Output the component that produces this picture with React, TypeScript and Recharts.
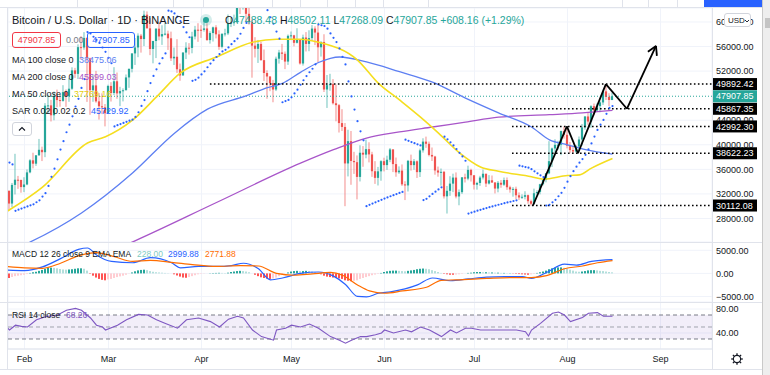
import React from 'react';
import {
  ComposedChart,
  Bar,
  Line,
  XAxis,
  YAxis,
  CartesianGrid,
  ReferenceLine,
  ReferenceArea,
  Cell
} from 'recharts';

const FONT = '"Liberation Sans", Arial, sans-serif';
const TEXT = '#131722';
const GRID = '#f0f3fa';
const BORDER = '#e0e3eb';
const UP = '#26a69a';
const DOWN = '#ef5350';

// day index 0 = 26 Jan 2021, one candle per day
const monthTicks = [6, 34, 65, 95, 126, 156, 187, 218];
const monthLabels = ['Feb', 'Mar', 'Apr', 'May', 'Jun', 'Jul', 'Aug', 'Sep'];
const X_DOMAIN: [number, number] = [0.5, 235.17];
const PRICE_DOMAIN: [number, number] = [24170, 62280];

const firstOpen = 32259;

const closes = [
  32510, 30432, 33467, 34316, 34269, 33114,
  33537, 35510, 37472, 36926, 38290, 39186, 38795, 46374, 46420, 44807, 47969, 47287, 47153, 48577, 47911, 49133, 52119, 51552, 55906, 55841, 57408, 54087, 48891, 49676, 47073, 46276, 46106, 45135,
  49587, 48440, 50349, 48374, 48751, 48882, 50971, 52375, 54884, 55851, 57773, 57221, 61188, 58968, 55605, 56900, 58912, 57648, 58030, 58102, 57351, 54083, 54340, 52303, 51293, 55025, 55817, 55777, 57635, 58746, 58740,
  58720, 58950, 57051, 58202, 59129, 57991, 55953, 58077, 58142, 59769, 59860, 59964, 63575, 62959, 63160, 61334, 60006, 56150, 55634, 56425, 53787, 51690, 51125, 50047, 49004, 54021, 55033, 54824, 53555, 57750,
  57828, 56610, 57213, 53241, 57473, 56428, 57380, 58928, 58281, 55883, 56750, 49007, 49716, 49880, 46761, 46456, 43538, 42909, 36964, 40596, 37371, 37170, 34770, 38706, 38402, 39294, 38436, 35698, 34617, 35679, 37333,
  36694, 37569, 39248, 36857, 35521, 35797, 33553, 33380, 37389, 36693, 37313, 35551, 39097, 40519, 40162, 38349, 38093, 35820, 35483, 35600, 31608, 32509, 33678, 34663, 31584, 32283, 34700, 34494, 35911, 35045,
  33504, 33787, 34669, 35286, 33690, 34220, 33862, 32875, 33815, 33502, 34259, 33087, 32730, 32822, 31780, 31421, 31533, 31796, 30817, 30400, 32110, 32314, 33581, 34292, 35350, 37337, 39406, 39995, 40008, 42236, 41626,
  39846, 39147, 38900, 39723, 40862, 42836, 44614, 43792, 46285, 45593, 46300, 46900, 48700, 47800, 47300, 47907.85
];

const highs = [
  32921, 32557, 33783, 38531, 34934, 34340,
  34717, 35984, 37662, 38708, 38310, 40955, 39700, 46794, 48142, 47310, 48678, 48985, 48150, 49707, 49010, 50869, 52618, 52530, 56368, 57700, 58352, 57508, 54183, 51374, 52041, 48424, 48393, 46638,
  49790, 50200, 52640, 51773, 49448, 49200, 51450, 52402, 54895, 57387, 58150, 58058, 61844, 61724, 60633, 56938, 58981, 60040, 59468, 59880, 58589, 58430, 55830, 57200, 53230, 55073, 56700, 56559, 58400, 59368, 59800,
  59461, 60200, 59791, 58493, 59251, 59474, 58650, 58153, 58894, 61218, 60658, 61199, 63777, 64854, 63800, 63520, 62506, 60499, 57526, 57076, 56757, 55520, 52130, 51166, 50567, 54356, 55460, 56428, 55200, 57963,
  58448, 57911, 58981, 57200, 57939, 58360, 58650, 59500, 59300, 59595, 56862, 58000, 51367, 51560, 50700, 49800, 46643, 45800, 43546, 42451, 42250, 38856, 38270, 39920, 39791, 40841, 40411, 38856, 37338, 36400, 37499,
  37894, 38225, 39476, 39289, 37925, 36480, 36800, 34068, 37534, 38400, 37680, 37463, 39380, 41064, 41330, 40527, 39559, 38202, 36457, 36137, 35750, 33298, 34881, 35298, 35500, 32730, 34749, 35297, 36600, 36100,
  35036, 33977, 34945, 35967, 35293, 35059, 35000, 33929, 34100, 34262, 34666, 34678, 33340, 33114, 33185, 32249, 31935, 32435, 31899, 31063, 32858, 32591, 33650, 34500, 35398, 40593, 39542, 40900, 40640, 42316, 42992,
  42599, 40459, 39780, 39969, 41350, 43392, 44700, 45310, 46454, 46718, 46743, 47100, 49000, 49892, 48400, 48502.11
];

const lows = [
  30837, 29241, 29842, 31915, 32825, 32200,
  32296, 33418, 35362, 36161, 36570, 38215, 37351, 37988, 45020, 43800, 43994, 46125, 46202, 47014, 46174, 47003, 48947, 50901, 50710, 53863, 55477, 46988, 44892, 47003, 46856, 44106, 45000, 43000,
  45042, 47047, 48100, 47500, 46300, 47070, 48882, 49274, 51789, 53005, 54270, 55013, 56078, 58966, 54600, 53271, 54123, 57023, 56270, 57820, 55450, 53650, 53000, 51700, 50427, 51283, 53966, 54691, 54901, 57168, 56769,
  57413, 58428, 56956, 56478, 56817, 57333, 55473, 55700, 57654, 57872, 59177, 59369, 59869, 61301, 62020, 60000, 59580, 50931, 54221, 53329, 53695, 50400, 47500, 48733, 46930, 48753, 53222, 53813, 52330, 53013,
  57052, 56035, 56500, 53057, 52900, 55200, 55241, 56900, 56235, 53400, 54370, 48600, 46000, 48805, 46555, 43825, 42001, 42250, 30000, 34850, 33488, 35258, 31111, 34031, 36419, 37800, 37134, 34779, 33632, 33379, 34153,
  35666, 35920, 37170, 35555, 34800, 35258, 33300, 31000, 32396, 35800, 35936, 34600, 34757, 38730, 39506, 38116, 37365, 35129, 34803, 33336, 31251, 28805, 31683, 32286, 31275, 30151, 32000, 33862, 34225, 34017,
  32711, 32699, 33316, 34357, 33125, 33532, 33780, 32077, 32261, 33004, 33306, 32658, 32202, 31550, 31133, 31020, 31176, 31108, 30407, 30112, 30300, 31708, 31925, 33401, 33881, 35205, 36383, 38772, 39200, 38313, 41000,
  39422, 38690, 38622, 38700, 39000, 39853, 42446, 43261, 42779, 44800, 45341, 45300, 46500, 47300, 46300, 47268.09
];

// parabolic SAR dots, one per day
const sar = [
  37400, 37100, 36800, 29241, 29427, 29609,
  29787, 29962, 30137, 30305, 30641, 30964, 31563, 32127, 33300, 34784, 36120, 37627, 39217, 40585, 42045, 43271, 44639, 46235, 47494, 49269, 50710, 58352, 58125, 57596, 57088, 56600, 55850, 55145,
  54173, 53279, 43000, 43193, 43382, 43567, 43748, 43926, 44100, 44532, 45303, 46331, 47277, 48734, 50045, 51225, 52287, 53243, 54103, 54877, 61844, 61716, 61393, 60889, 60154, 59181, 58306, 57518, 50427, 50586, 50937,
  51469, 51969, 52627, 53233, 53790, 54303, 54775, 55209, 55473, 55851, 56388, 56871, 57306, 58083, 59031, 59846, 64854, 64749, 64196, 63665, 63156, 62663, 61927, 60773, 59711, 58433, 57283, 46930, 47120, 47306,
  47732, 48375, 48979, 49779, 50515, 51192, 51815, 52388, 53099, 59595, 59471, 59350, 58920, 58145, 57416, 56731, 55699, 54329, 53096, 50325, 47886, 45740, 43851, 42189, 40726, 30000, 30217, 30429, 30637, 30841, 31041,
  31237, 31429, 31617, 31801, 31982, 32159, 32333, 40841, 40644, 40451, 40262, 40077, 39895, 31000, 31201, 31606, 31995, 32368, 32727, 33071, 41330, 40900, 40400, 39900, 39300, 38700, 38100, 37400, 28805, 28961,
  29114, 29264, 29411, 29555, 29696, 29834, 29970, 30103, 30233, 30361, 30486, 30609, 30729, 30847, 30962, 36600, 36488, 36379, 36272, 36037, 35682, 35348, 35034, 34739, 30112, 30218, 30633, 31031, 31623, 32180, 32991,
  33991, 34891, 35701, 36430, 37086, 37677, 38363, 39250, 40220, 41342, 42417, 43282, 44046, 45037, 46008, 46300
];

// MACD histogram, one per day
const macdHist = [
  -900, -1000, -800, -600, -500, -400, -300, -150,
  100, 250, 350, 550, 750, 1000, 1200, 1250, 1200, 1100, 950, 850, 800, 850, 900, 1000, 1100, 1100, 1000, 600,
  -100, -500, -900, -1200, -1400, -1500, -1300, -1200, -1000, -800, -650, -500, -300, -100,
  200, 450, 650, 750, 800, 700, 500, 350,
  250, 200, 150, 100, 50, 0,
  -200, -450, -700, -900, -950, -800, -600, -400, -200,
  -100, -50, 0, 50, 80, 100, 120, 100, 80,
  150, 300, 400, 500, 550, 500, 400, 250,
  0, -300, -600, -850, -1000, -1150, -1200, -1100, -900, -600, -300,
  0, 200, 400, 500, 550, 500, 500, 550, 500, 400, 250,
  0, -200, -500, -700, -800, -900, -1000, -1100, -1200, -1500, -1600, -1700, -1600, -1500, -1200, -1000, -800, -600, -400, -250, -100,
  100, 300, 450, 550, 600, 600, 550, 500, 450, 550, 650, 750, 900, 1000, 1050, 1000, 900, 700, 500, 300, 100,
  -100, -200, -300, -300, -250, -200, -100, 0, 100,
  150, 250, 300, 300, 250, 250, 200, 200, 150, 150, 100, 100, 50, 50,
  -50, -100, -150, -200, -250, -300, -200, -100,
  100, 250, 400, 600, 900, 1100, 1250, 1300, 1300, 1200, 1000, 800, 600, 400,
  350, 400, 500, 650, 700, 700, 650, 550, 500, 400, 300, 228
];

// [day index, value]
const ma50Pts = [
  [0, 29100], [12, 33100], [27, 40300], [33, 41300], [42, 44000], [50, 47800], [58, 51700], [70, 54300],
  [82, 56700], [90, 57200], [98, 57200], [104, 56700], [117, 53800], [124, 50000], [131, 47300], [138, 44500],
  [144, 41900], [151, 38700], [158, 36400], [164, 35700], [175, 34800], [179, 34400], [187, 35000], [191, 35100],
  [195, 36200], [202, 37769]
];
const ma100Pts = [
  [0, 22500], [8, 24200], [25, 28900], [42, 35400], [56, 41900], [67, 45800], [80, 48000], [87, 49300],
  [92, 50000], [98, 51800], [104, 53400], [111, 54300], [120, 53500], [131, 51900], [142, 50200], [153, 47600],
  [164, 45200], [175, 42900], [181, 40800], [187, 40000], [193, 39200], [202, 38475]
];
const ma200Pts = [
  [0, 15000], [20, 19600], [43, 24400], [70, 30600], [98, 37000], [109, 39200], [120, 41100], [131, 42100],
  [142, 42900], [153, 43700], [164, 44500], [181, 44900], [192, 45200], [202, 45600]
];
const macdPts = [
  [0, 700], [6, 600], [12, 1400], [18, 3200], [24, 5200], [27, 5500], [30, 4000], [35, 2600], [42, 2300],
  [48, 3400], [55, 2300], [58, 1200], [64, 1500], [70, 1500], [75, 1700], [79, 2200], [84, 1000], [88, -1400],
  [92, -1000], [98, 0], [104, 300], [109, -600], [113, -2400], [117, -5000], [120, -5100], [124, -4300],
  [128, -4000], [137, -2500], [142, -1000], [148, -1600], [154, -1200], [160, -800], [166, -700], [172, -700],
  [175, -1100], [180, 200], [186, 2000], [190, 1800], [195, 2600], [202, 3000]
];
const signalPts = [
  [0, 1500], [6, 1200], [12, 1100], [18, 2200], [24, 3800], [30, 4500], [36, 3600], [42, 2600], [48, 2800],
  [55, 2400], [62, 1900], [70, 1500], [78, 1700], [84, 1600], [90, 0], [96, -400], [102, -100], [108, 200],
  [112, -400], [117, -2500], [121, -3800], [126, -4300], [132, -3800], [140, -3000], [145, -1500], [150, -1400],
  [160, -1100], [168, -900], [175, -900], [180, -500], [186, 1000], [192, 1600], [197, 2300], [202, 2772]
];
const rsiPts = [
  [0, 50], [1, 45], [3, 53], [5, 51], [7, 50], [10, 62], [13, 67], [17, 70], [20, 78], [23, 81], [25, 78],
  [28, 65], [30, 53], [32, 50], [33, 45], [37, 53], [40, 62], [44, 71], [47, 70], [50, 62], [53, 56], [57, 48],
  [60, 62], [64, 65], [68, 59], [71, 50], [74, 63], [77, 68], [79, 65], [82, 45], [85, 34], [89, 28], [90, 45],
  [93, 48], [95, 53], [98, 50], [101, 55], [104, 48], [108, 34], [111, 28], [113, 23], [115, 28], [118, 34],
  [120, 34], [123, 37], [125, 40], [126, 45], [129, 40], [133, 45], [135, 42], [138, 50], [141, 45], [145, 34],
  [148, 45], [150, 40], [153, 48], [155, 48], [158, 45], [164, 45], [170, 45], [173, 42], [174, 35], [175, 45],
  [178, 56], [182, 73], [184, 75], [186, 70], [188, 59], [192, 66], [194, 73], [197, 74], [199, 68], [202, 68]
];

// 48000 sits under the last-price tag in the reference
const priceTicks = [28000, 32000, 36000, 40000, 44000, 52000, 56000, 60000];
const macdTicks = [-5000, 0, 5000];
const rsiTicks = [40, 80];
const lastPrice = 47907.85;
const levelPrices = [49892.42, 45867.35, 42992.3, 38622.23, 30112.08];
const levelStarts = [67.8, 168.5, 168.5, 168.5, 168.5];
const zigzag = [
  [175.5, 30112.08], [186.8, 42992.3], [190.5, 38622.23], [199.8, 49892.42], [206.8, 45867.35], [216.5, 56100]
];
const arrowWings = [[213.8, 55150], [216.8, 54470]];

const toMap = (pts: number[][]) => new Map(pts.map(([i, v]) => [i, v]));
const m50 = toMap(ma50Pts);
const m100 = toMap(ma100Pts);
const m200 = toMap(ma200Pts);
const mMacd = toMap(macdPts);
const mSig = toMap(signalPts);
const mRsi = toMap(rsiPts);

const rows = closes.map((c, i) => {
  const o = i === 0 ? firstOpen : closes[i - 1];
  return {
    i,
    o,
    h: highs[i],
    l: lows[i],
    c,
    range: [lows[i], highs[i]],
    sar: sar[i],
    hist: macdHist[i],
    ma50: m50.get(i),
    ma100: m100.get(i),
    ma200: m200.get(i),
    macd: mMacd.get(i),
    signal: mSig.get(i),
    rsi: mRsi.get(i)
  };
});

const histColor = (k: number) => {
  const v = macdHist[k];
  const prev = k > 0 ? macdHist[k - 1] : v;
  if (v >= 0) return v >= prev ? '#26a69a' : '#b2dfdb';
  return v <= prev ? '#ff5252' : '#ffcdd2';
};

const Candle = (props: any) => {
  const { x, y, width, height, payload } = props;
  if (!payload || height == null || isNaN(y)) return null;
  const { o, h, l, c } = payload;
  const color = c >= o ? UP : DOWN;
  const span = h - l || 1;
  const topP = Math.min(h, Math.max(o, c));
  const botP = Math.max(l, Math.min(o, c));
  const top = y + ((h - topP) / span) * height;
  const bodyH = Math.max(1, ((topP - botP) / span) * height);
  const cx = x + width / 2;
  return (
    <g>
      <line x1={cx} x2={cx} y1={y} y2={y + height} stroke={color} strokeWidth={1} opacity={0.65} />
      <rect x={cx - 1.1} y={top} width={2.2} height={bodyH} fill={color} />
    </g>
  );
};

const fmt = (v: number) => (v < 0 ? '\u2212' + Math.abs(v).toFixed(2) : v.toFixed(2));

const renderValueTick = (p: any) => (
  <text x={p.x} y={p.y} dy={3.2} fontSize={9} fill={TEXT} textAnchor="start" fontFamily={FONT}>
    {fmt(p.payload.value)}
  </text>
);

const renderMonthTick = (p: any) => (
  <text x={p.x} y={p.y} dy={13} fontSize={9} fill={TEXT} textAnchor="middle" fontFamily={FONT}>
    {monthLabels[monthTicks.indexOf(p.payload.value)]}
  </text>
);

const tagLabel = (text: string, bg: string) => (props: any) => {
  const vb = props.viewBox || {};
  const x = (vb.x || 0) + (vb.width || 0);
  const y = vb.y || 0;
  return (
    <g>
      <rect x={x} y={y - 6} width={45} height={12} fill={bg} />
      <text x={x + 4} y={y + 3.2} fontSize={9} fill="#ffffff" fontFamily={FONT}>
        {text}
      </text>
    </g>
  );
};

const Txt = ({ x, y, size = 9, color = TEXT, children }: any) => (
  <div
    style={{
      position: 'absolute',
      left: x,
      top: y,
      transform: 'translateY(-50%)',
      fontSize: size,
      color,
      whiteSpace: 'nowrap',
      lineHeight: 1,
      fontFamily: FONT
    }}
  >
    {children}
  </div>
);

const MainPane = () => (
  <ComposedChart width={770} height={242} data={rows} margin={{ top: 8, right: 0, bottom: 0, left: 8 }}>
    <CartesianGrid stroke={GRID} />
    <XAxis type="number" dataKey="i" domain={X_DOMAIN} ticks={monthTicks} hide allowDataOverflow />
    <YAxis
      orientation="right"
      domain={PRICE_DOMAIN}
      ticks={priceTicks}
      interval={0}
      width={58}
      axisLine={false}
      tickLine={false}
      tickSize={0}
      tickMargin={4}
      tick={renderValueTick}
      allowDataOverflow
    />
    <ReferenceLine y={lastPrice} stroke={UP} strokeDasharray="1 2" />
    <Line dataKey="ma200" type="monotone" stroke="#a855c9" strokeWidth={1.3} dot={false} connectNulls isAnimationActive={false} />
    <Line dataKey="ma100" type="monotone" stroke="#5d7ff2" strokeWidth={1.3} dot={false} connectNulls isAnimationActive={false} />
    <Line dataKey="ma50" type="monotone" stroke="#f5de1f" strokeWidth={1.6} dot={false} connectNulls isAnimationActive={false} />
    <Bar dataKey="range" barSize={2} shape={Candle} isAnimationActive={false} />
    <Line
      dataKey="sar"
      stroke="none"
      strokeWidth={0}
      activeDot={false}
      isAnimationActive={false}
      dot={(p: any) => <circle key={'s' + p.index} cx={p.cx} cy={p.cy} r={1.1} fill="#2962ff" />}
    />
    {levelPrices.map((p, k) => (
      <ReferenceLine
        key={'lv' + k}
        segment={[{ x: levelStarts[k], y: p }, { x: X_DOMAIN[1], y: p }]}
        stroke="#000000"
        strokeWidth={1.6}
        strokeDasharray="1.6 2.4"
      />
    ))}
    {zigzag.slice(1).map((pt, k) => (
      <ReferenceLine
        key={'zz' + k}
        segment={[{ x: zigzag[k][0], y: zigzag[k][1] }, { x: pt[0], y: pt[1] }]}
        stroke="#000000"
        strokeWidth={1.8}
      />
    ))}
    {arrowWings.map((w, k) => (
      <ReferenceLine
        key={'aw' + k}
        segment={[{ x: zigzag[5][0], y: zigzag[5][1] }, { x: w[0], y: w[1] }]}
        stroke="#000000"
        strokeWidth={1.8}
      />
    ))}
  </ComposedChart>
);

// price tags on the axis, drawn in a transparent chart on top so they cover the tick labels
const TagPane = () => (
  <ComposedChart width={770} height={242} data={rows} margin={{ top: 8, right: 0, bottom: 0, left: 8 }}>
    <XAxis type="number" dataKey="i" domain={X_DOMAIN} hide allowDataOverflow />
    <YAxis orientation="right" domain={PRICE_DOMAIN} width={58} tick={false} axisLine={false} tickLine={false} allowDataOverflow />
    {levelPrices.map((p, k) => (
      <ReferenceLine key={'tg' + k} y={p} stroke="none" label={tagLabel(p.toFixed(2), '#000000')} />
    ))}
    <ReferenceLine y={lastPrice} stroke="none" label={tagLabel(lastPrice.toFixed(2), UP)} />
  </ComposedChart>
);

const MacdPane = () => (
  <ComposedChart width={770} height={60} data={rows} margin={{ top: 0, right: 0, bottom: 0, left: 8 }}>
    <CartesianGrid stroke={GRID} />
    <XAxis type="number" dataKey="i" domain={X_DOMAIN} ticks={monthTicks} hide allowDataOverflow />
    <YAxis
      orientation="right"
      domain={[-6200, 6800]}
      ticks={macdTicks}
      interval={0}
      width={58}
      axisLine={false}
      tickLine={false}
      tickSize={0}
      tickMargin={4}
      tick={renderValueTick}
      allowDataOverflow
    />
    <Bar dataKey="hist" barSize={2} isAnimationActive={false}>
      {rows.map((r, k) => (
        <Cell key={'h' + k} fill={histColor(k)} />
      ))}
    </Bar>
    <Line dataKey="macd" type="monotone" stroke="#2962ff" strokeWidth={1.2} dot={false} connectNulls isAnimationActive={false} />
    <Line dataKey="signal" type="monotone" stroke="#ff6d00" strokeWidth={1.2} dot={false} connectNulls isAnimationActive={false} />
  </ComposedChart>
);

const RsiPane = () => (
  <ComposedChart width={770} height={67} data={rows} margin={{ top: 0, right: 0, bottom: 0, left: 8 }}>
    <CartesianGrid stroke={GRID} />
    <XAxis
      type="number"
      dataKey="i"
      domain={X_DOMAIN}
      ticks={monthTicks}
      interval={0}
      height={20}
      stroke={BORDER}
      tickLine={false}
      tickSize={0}
      tickMargin={0}
      tick={renderMonthTick}
      allowDataOverflow
    />
    <YAxis
      orientation="right"
      domain={[13.3, 91.7]}
      ticks={rsiTicks}
      interval={0}
      width={58}
      axisLine={false}
      tickLine={false}
      tickSize={0}
      tickMargin={4}
      tick={renderValueTick}
      allowDataOverflow
    />
    <ReferenceArea y1={30} y2={70} fill="#7e57c2" fillOpacity={0.1} stroke="none" />
    <ReferenceLine y={70} stroke="#787b86" strokeDasharray="4 3" />
    <ReferenceLine y={50} stroke="#a0a3ad" strokeDasharray="4 3" />
    <ReferenceLine y={30} stroke="#787b86" strokeDasharray="4 3" />
    <Line dataKey="rsi" type="linear" stroke="#7e57c2" strokeWidth={1.1} dot={false} connectNulls isAnimationActive={false} />
  </ComposedChart>
);

const toolbarSeps = [77, 173, 203, 272, 300, 327, 355, 383, 428, 622, 648, 677];

export default function App() {
  return (
    <div
      style={{
        position: 'fixed',
        left: 0,
        top: 0,
        width: 770,
        height: 375,
        background: '#ffffff',
        overflow: 'hidden',
        fontFamily: FONT
      }}
    >
      <div style={{ position: 'absolute', left: 0, top: 0 }}>
        <MainPane />
      </div>
      <div style={{ position: 'absolute', left: 0, top: 0 }}>
        <TagPane />
      </div>
      <div style={{ position: 'absolute', left: 0, top: 242 }}>
        <MacdPane />
      </div>
      <div style={{ position: 'absolute', left: 0, top: 302 }}>
        <RsiPane />
      </div>

      {/* frame lines */}
      <div style={{ position: 'absolute', left: 0, top: 7, width: 762, height: 1, background: BORDER }} />
      {toolbarSeps.map((x) => (
        <div key={x} style={{ position: 'absolute', left: x, top: 0, width: 1, height: 7, background: BORDER }} />
      ))}
      <div style={{ position: 'absolute', left: 704, top: 0, width: 58, height: 7, background: '#2962ff' }} />
      <div style={{ position: 'absolute', left: 0, top: 242, width: 762, height: 1, background: BORDER }} />
      <div style={{ position: 'absolute', left: 0, top: 302, width: 762, height: 1, background: BORDER }} />
      <div style={{ position: 'absolute', left: 0, top: 369, width: 762, height: 1, background: BORDER }} />
      <div style={{ position: 'absolute', left: 712, top: 7, width: 1, height: 362, background: BORDER }} />
      <div style={{ position: 'absolute', left: 7, top: 7, width: 1, height: 362, background: BORDER }} />
      <div
        style={{
          position: 'absolute',
          left: 762,
          top: 0,
          width: 8,
          height: 375,
          background: '#eeeeee',
          borderLeft: '1px solid #c9c9c9'
        }}
      />
      <div style={{ position: 'absolute', left: 765, top: 18, width: 5, height: 10, background: '#c4c4c4' }} />

      {/* currency button */}
      <div
        style={{
          position: 'absolute',
          left: 724,
          top: 13,
          width: 27,
          height: 14,
          border: '1px solid #d1d4dc',
          borderRadius: 3,
          background: '#ffffff',
          boxSizing: 'border-box'
        }}
      >
        <span
          style={{
            position: 'absolute',
            left: 3,
            top: 2,
            fontSize: 8,
            lineHeight: '9px',
            color: TEXT,
            whiteSpace: 'nowrap'
          }}
        >
          USD
        </span>
        <svg width={6} height={6} style={{ position: 'absolute', left: 19, top: 4 }}>
          <polyline points="1,2 3,4 5,2" fill="none" stroke={TEXT} strokeWidth={0.9} />
        </svg>
      </div>

      {/* gear */}
      <svg style={{ position: 'absolute', left: 729, top: 351 }} width={16} height={16}>
        <circle cx={8} cy={8} r={3.6} fill="none" stroke={TEXT} strokeWidth={1.1} />
        {[0, 45, 90, 135, 180, 225, 270, 315].map((a) => (
          <line
            key={a}
            x1={8 + 3.6 * Math.cos((a * Math.PI) / 180)}
            y1={8 + 3.6 * Math.sin((a * Math.PI) / 180)}
            x2={8 + 5.8 * Math.cos((a * Math.PI) / 180)}
            y2={8 + 5.8 * Math.sin((a * Math.PI) / 180)}
            stroke={TEXT}
            strokeWidth={1.3}
          />
        ))}
      </svg>

      {/* main legend */}
      <Txt x={12} y={20} size={11}>
        Bitcoin / U.S. Dollar · 1D · BINANCE
      </Txt>
      <div
        style={{
          position: 'absolute',
          left: 200,
          top: 14,
          width: 12,
          height: 12,
          borderRadius: 6,
          background: 'rgba(38,166,154,0.2)'
        }}
      />
      <div style={{ position: 'absolute', left: 203, top: 17, width: 6, height: 6, borderRadius: 3, background: UP }} />
      <Txt x={225} y={20} size={10.5}>
        O<span style={{ color: UP }}>47488.48</span> H<span style={{ color: UP }}>48502.11</span> L
        <span style={{ color: UP }}>47268.09</span> C<span style={{ color: UP }}>47907.85</span>{' '}
        <span style={{ color: UP }}>+608.16 (+1.29%)</span>
      </Txt>
      <div
        style={{
          position: 'absolute',
          left: 12,
          top: 32,
          width: 49,
          height: 16,
          border: '1px solid #f23645',
          borderRadius: 3,
          boxSizing: 'border-box',
          color: '#f23645',
          fontSize: 9,
          lineHeight: '14px',
          textAlign: 'center'
        }}
      >
        47907.85
      </div>
      <Txt x={66} y={40} color="#787b86">
        0.00
      </Txt>
      <div
        style={{
          position: 'absolute',
          left: 87,
          top: 32,
          width: 48,
          height: 16,
          border: '1px solid #2962ff',
          borderRadius: 3,
          boxSizing: 'border-box',
          color: '#2962ff',
          fontSize: 9,
          lineHeight: '14px',
          textAlign: 'center'
        }}
      >
        47907.85
      </div>
      <Txt x={12} y={60}>MA 100 close 0</Txt>
      <Txt x={79} y={60} color="#5d7ff2">38475.06</Txt>
      <Txt x={12} y={77}>MA 200 close 0</Txt>
      <Txt x={79} y={77} color="#a855c9">45599.03</Txt>
      <Txt x={12} y={94}>MA 50 close 0</Txt>
      <Txt x={74} y={94} color="#e6cf10">37769.16</Txt>
      <Txt x={12} y={111}>SAR 0.02 0.02 0.2</Txt>
      <Txt x={91} y={111} color="#2962ff">45729.92</Txt>
      <div
        style={{
          position: 'absolute',
          left: 12,
          top: 122,
          width: 20,
          height: 14,
          border: '1px solid #d1d4dc',
          borderRadius: 3,
          boxSizing: 'border-box',
          background: '#ffffff'
        }}
      >
        <svg width={18} height={12} style={{ position: 'absolute', left: 0, top: 0 }}>
          <polyline points="6,7.5 9,4.5 12,7.5" fill="none" stroke={TEXT} strokeWidth={1.1} />
        </svg>
      </div>

      {/* MACD legend */}
      <Txt x={12} y={254} size={8.5}>MACD 12 26 close 9 EMA EMA</Txt>
      <Txt x={137} y={254} size={8.5} color="#80cbc4">228.00</Txt>
      <Txt x={168} y={254} size={8.5} color="#2962ff">2999.88</Txt>
      <Txt x={205} y={254} size={8.5} color="#ff6d00">2771.88</Txt>

      {/* RSI legend */}
      <Txt x={12} y={315} size={8.5}>RSI 14 close</Txt>
      <Txt x={66} y={315} size={8.5} color="#7e57c2">68.26</Txt>
    </div>
  );
}
